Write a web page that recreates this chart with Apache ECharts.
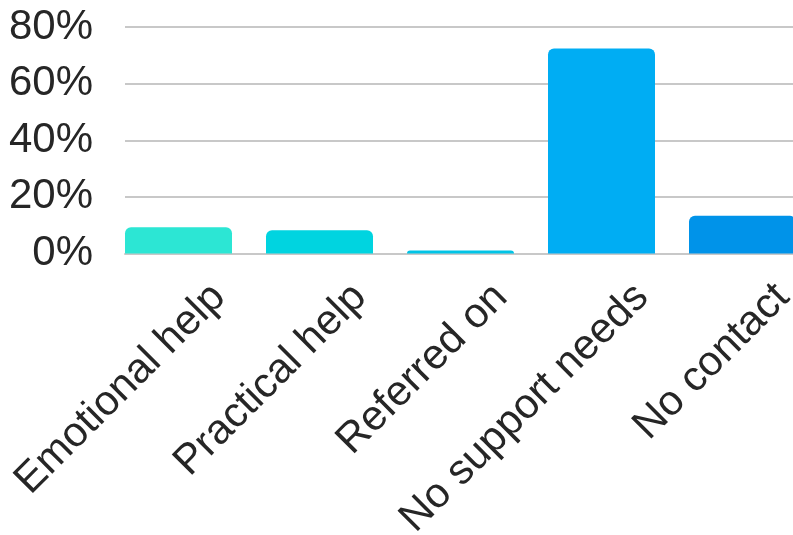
<!DOCTYPE html>
<html><head><meta charset="utf-8">
<script src="https://cdn.jsdelivr.net/npm/echarts@6/dist/echarts.min.js"></script>
<style>html,body{margin:0;padding:0;background:#fff}#c{width:793px;height:535px}</style>
</head><body><div id="c"></div>
<script>
var categories = ["Emotional help", "Practical help", "Referred on", "No support needs", "No contact"];
var values = [9.3, 8.2, 1.1, 72.4, 13.3];
var barColors = ["#2ce6d4", "#00d4e0", "#00c4e6", "#00adf3", "#0093e9"];
var yTicks = [0, 20, 40, 60, 80];

var chart = echarts.init(document.getElementById('c'), null, {renderer: 'canvas'});
chart.setOption({
  animation: false,
  grid: {left: 125, width: 705, top: 27, bottom: 281.5, containLabel: false, outerBoundsMode: 'none'},
  xAxis: {
    type: 'category', data: categories,
    axisLine: {show: true, lineStyle: {color: '#c8c8c8', width: 2}},
    axisTick: {show: false},
    axisLabel: {rotate: 45, fontSize: 42, color: '#262626', fontFamily: 'Liberation Sans, Arial, sans-serif', margin: 14, interval: 0,
      verticalAlign: 'top', padding: [12, 0, 0, 0]}
  },
  yAxis: {
    type: 'value', min: yTicks[0], max: yTicks[yTicks.length-1], interval: 20,
    axisLine: {show: false}, axisTick: {show: false},
    splitLine: {lineStyle: {color: '#c8c8c8', width: 2}},
    axisLabel: {formatter: '{value}%', fontSize: 42, color: '#262626', fontFamily: 'Liberation Sans, Arial, sans-serif', margin: 32}
  },
  series: [
    {type: 'bar', barWidth: 107, barGap: 0,
     data: values.map(function(v, i){ return {value: v, itemStyle: {color: barColors[i]}}; }),
     itemStyle: {borderRadius: [6, 6, 0, 0]}},
    {type: 'bar', barWidth: 34, data: values.map(function(){ return null; })}
  ]
});
</script></body></html>
